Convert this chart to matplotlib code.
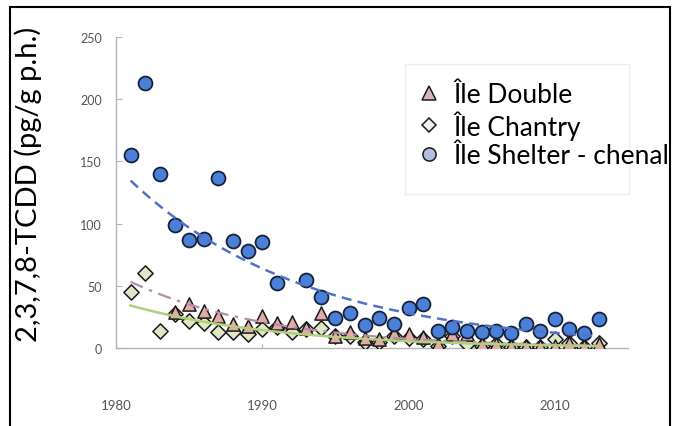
import numpy as np
import matplotlib
matplotlib.use("Agg")
import matplotlib.pyplot as plt
from matplotlib.patches import Rectangle
from matplotlib.lines import Line2D

plt.rcParams['font.family'] = ['Lato', 'DejaVu Sans']

# data (pg/g wet weight)
years_shelter = list(range(1981, 1992)) + list(range(1993, 2014))
shelter = [155, 213, 140, 99, 87, 88, 137, 86, 78, 85, 52,
           55, 41, 24, 28.5, 18.6, 24, 19, 32, 35.5, 13.7,
           16.6, 14, 12.5, 14, 11.8, 19, 14, 23, 15, 11.8, 23.5]

years_double = list(range(1984, 2014))
double = [29, 35, 30, 26, 19, 18, 26, 20, 21, 16, 28.5, 10, 13, 8, 7,
          12, 11, 9, 3, 11, 11, 3, 3.5, 2, 2, 2, 1.5, 4, 1.5, 3.5]

years_chantry = list(range(1981, 2014))
chantry = [45, 60, 14, 27, 22, 20, 13, 13, 11, 15, 17, 13, 15, 16, 10, 10, 5,
           5, 10, 8, 7, 2, 10, 3, 2, 3, 1, 1, 1, 7, 4, 1, 4]

labels = ['Île Double', 'Île Chantry', 'Île Shelter - chenal']
xticks = [1980, 1990, 2000, 2010]
yticks = [0, 50, 100, 150, 200, 250]


def expo_trend(x, y, start, end):
    # exponential trendline, like the spreadsheet one
    b, a = np.polyfit(x, np.log(y), 1)
    xs = np.linspace(start, end, 100)
    return xs, np.exp(a + b * xs)


fig = plt.figure(figsize=(6.76, 4.27), dpi=100)
ax = fig.add_axes([116 / 676, 1 - 349 / 427, 512 / 676, 311 / 427])

ax.scatter(years_chantry, chantry, marker='D', s=60, facecolor='#dfe8c6',
           edgecolor='#1a1a1a', linewidth=1.1, zorder=3)
ax.scatter(years_double, double, marker='^', s=90, facecolor='#e3aaa8',
           edgecolor='#1a1a1a', linewidth=1.1, zorder=4)
ax.scatter(years_shelter, shelter, marker='o', s=100, facecolor='#4a80d8',
           edgecolor='#17223a', linewidth=1.3, zorder=5)

xs, ys = expo_trend(years_double, double, 1981, 2013)
ax.plot(xs, ys, color='#b28fa8', lw=1.6, ls=(0, (6, 3, 1.5, 3)), zorder=6)
xs, ys = expo_trend(years_chantry, chantry, 1981, 2013)
ax.plot(xs, ys, color='#b3cf7c', lw=1.8, zorder=6)
xs, ys = expo_trend(years_shelter, shelter, 1981, 2013)
ax.plot(xs, ys, color='#4f74c6', lw=1.8, ls=(0, (4, 2.5)), zorder=6)

ax.set_xlim(1980, 2015)
ax.set_ylim(0, 250)
ax.set_xticks(xticks)
ax.set_yticks(yticks)
for s in ['top', 'right']:
    ax.spines[s].set_visible(False)
for s in ['left', 'bottom']:
    ax.spines[s].set_color('#b5b5b5')
    ax.spines[s].set_linewidth(1.0)
ax.tick_params(axis='y', direction='in', length=4, color='#b5b5b5',
               labelsize=9, labelcolor='#555555', pad=10)
ax.tick_params(axis='x', direction='in', length=3, color='#b5b5b5',
               labelsize=9.5, labelcolor='#555555', pad=37)

ax.set_ylabel('2,3,7,8-TCDD (pg/g p.h.)', fontsize=21, color='black')
ax.yaxis.set_label_coords((42 - 116) / 512, (349 - 184) / 311)

# legend
handles = [
    Line2D([], [], ls='none', marker='^', ms=10, mfc='#d9b3b6', mec='#1a1a1a', mew=1.1),
    Line2D([], [], ls='none', marker='D', ms=7, mfc='#f2f2ea', mec='#1a1a1a', mew=1.1),
    Line2D([], [], ls='none', marker='o', ms=9.5, mfc='#b3bfe0', mec='#1a1a1a', mew=1.1),
]
fig.legend(handles, labels, loc='upper left', bbox_to_anchor=(417 / 676, 1 - 83 / 427),
           frameon=False, fontsize=19, handlelength=0.9, handletextpad=0.5,
           labelspacing=0.12, borderaxespad=0, borderpad=0)
fig.add_artist(Rectangle((405 / 676, 1 - 195 / 427), 224 / 676, 130 / 427,
                         transform=fig.transFigure, fill=False,
                         edgecolor='#ececec', lw=1.0))

# outer frame of the picture
fig.add_artist(Rectangle((10 / 676, -0.05), 660 / 676, 1.05 - 8 / 427,
                         transform=fig.transFigure, fill=False,
                         edgecolor='black', lw=1.5))

fig.savefig('out.png', dpi=100)
